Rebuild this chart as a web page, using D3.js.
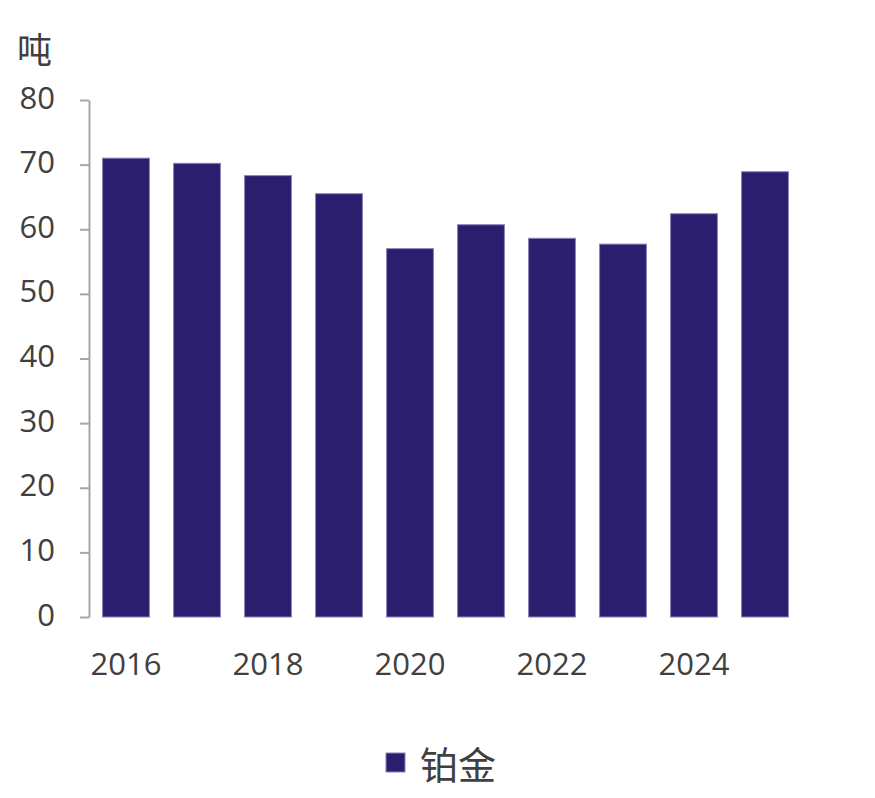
<!DOCTYPE html>
<html><head><meta charset="utf-8">
<script src="https://cdn.jsdelivr.net/npm/d3@7"></script>
<style>body{margin:0;background:#fff}</style>
</head><body>
<svg id="c" width="875" height="798"></svg>
<script>
const years = [2016,2017,2018,2019,2020,2021,2022,2023,2024,2025];
const values = [71.0,70.2,68.3,65.5,57.0,60.7,58.6,57.7,62.4,68.9];
const yTicks = [0,10,20,30,40,50,60,70,80];
const xTickLabels = [2016,2018,2020,2022,2024];
const seriesName = "铂金";
const unitLabel = "吨";

const svg = d3.select("#c");
const x = d3.scaleBand().domain(years).range([90.5,800.5]).paddingInner(0.34).paddingOuter(0.17);
const y = d3.scaleLinear().domain([0,80]).range([617,100]);
const textColor = "#404040";
const numFont = "'Open Sans', sans-serif";
const cjkFont = "'Noto Sans CJK SC', sans-serif";

// y axis
const yAxis = svg.append("g").attr("transform","translate(89,0)")
  .call(d3.axisLeft(y).tickValues(yTicks).tickSize(9).tickSizeOuter(0).tickFormat(d3.format("d")));
yAxis.select(".domain").attr("stroke","#a6a6a6").attr("stroke-width",2);
yAxis.selectAll(".tick line").attr("stroke","#a6a6a6").attr("stroke-width",2);
yAxis.selectAll(".tick text").attr("x",-34).attr("dy","0.26em")
  .attr("fill",textColor).style("font-family",numFont).style("font-size","31px");

// bars
svg.append("g").selectAll("rect").data(years).join("rect")
  .attr("x",d=>x(d)).attr("width",x.bandwidth())
  .attr("y",(d,i)=>y(values[i])).attr("height",(d,i)=>y(0)-y(values[i]))
  .attr("fill","#2c1e6e").attr("stroke","#8a82b8").attr("stroke-width",1);

// x labels
const xAxis = svg.append("g").attr("transform","translate(0,617)")
  .call(d3.axisBottom(x).tickValues(xTickLabels).tickSize(0).tickFormat(d3.format("d")));
xAxis.select(".domain").remove();
xAxis.selectAll(".tick text").attr("y",58).attr("dy",0)
  .attr("fill",textColor).style("font-family",numFont).style("font-size","31px");

// unit label
svg.append("text").attr("x",17).attr("y",63).text(unitLabel)
  .attr("fill",textColor).style("font-family",cjkFont).style("font-size","35px");

// legend
svg.append("rect").attr("x",386).attr("y",753).attr("width",19).attr("height",19)
  .attr("fill","#2c1e6e").attr("stroke","#8a82b8").attr("stroke-width",1);
svg.append("text").attr("x",420).attr("y",779).text(seriesName)
  .attr("fill",textColor).style("font-family",cjkFont).style("font-size","38px");
</script>
</body></html>
